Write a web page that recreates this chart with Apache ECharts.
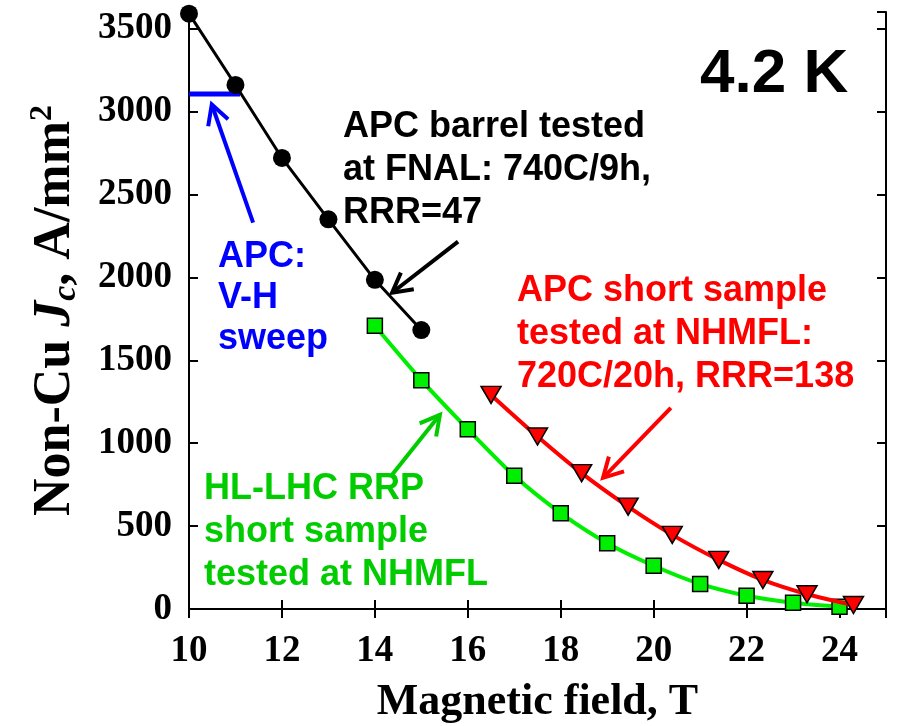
<!DOCTYPE html>
<html>
<head>
<meta charset="utf-8">
<script src="https://cdn.jsdelivr.net/npm/echarts@6/dist/echarts.min.js"></script>
<style>
html, body { margin: 0; padding: 0; background: #fff; }
#chart { width: 904px; height: 726px; }
</style>
</head>
<body>
<div id="chart"></div>
<script>
// APC barrel tested at FNAL
var blackX = [10, 11, 12, 13, 14, 15];
var blackY = [3590, 3160, 2720, 2350, 1985, 1682];
// APC V-H sweep
var blueX = [10, 11.1];
var blueY = [3105, 3105];
// HL-LHC RRP short sample
var greenX = [14, 15, 16, 17, 18, 19, 20, 21, 22, 23, 24];
var greenY = [1708, 1380, 1084, 803, 578, 397, 261, 151, 80, 38, 14];
// APC short sample at NHMFL
var redX = [16.5, 17.5, 18.45, 19.45, 20.4, 21.4, 22.35, 23.3, 24.3];
var redY = [1291, 1040, 819, 617, 447, 296, 175, 89, 24];
// annotation arrows: [x1, y1, x2, y2] (tail -> head)
var arrowLines = [
    [15.79, 2215, 14.37, 1907],
    [11.38, 2330, 10.49, 3042],
    [14.37, 809, 15.40, 1171],
    [20.37, 1213, 18.91, 791]
];
var arrowColors = ['#000000', '#0000ff', '#00cc00', '#ff0000'];

var SERIF = '"Liberation Serif", "Times New Roman", serif';
var SANS = '"Liberation Sans", Arial, sans-serif';

function zip(xs, ys) {
    var out = [];
    for (var i = 0; i < xs.length; i++) {
        out.push([xs[i], ys[i]]);
    }
    return out;
}

function renderArrow(params, api) {
    var p1 = api.coord([api.value(0), api.value(1)]);
    var p2 = api.coord([api.value(2), api.value(3)]);
    var ang = Math.atan2(p1[1] - p2[1], p1[0] - p2[0]);
    var len = 22, spread = 0.5;
    var h1 = [p2[0] + len * Math.cos(ang + spread), p2[1] + len * Math.sin(ang + spread)];
    var h2 = [p2[0] + len * Math.cos(ang - spread), p2[1] + len * Math.sin(ang - spread)];
    var color = arrowColors[params.dataIndex];
    return {
        type: 'group',
        children: [{
            type: 'line',
            shape: { x1: p1[0], y1: p1[1], x2: p2[0], y2: p2[1] },
            style: { stroke: color, lineWidth: 4 }
        }, {
            type: 'polyline',
            shape: { points: [h1, p2, h2] },
            style: { stroke: color, lineWidth: 4, fill: null }
        }]
    };
}

var tickStyle = { show: true, inside: true, length: 9, lineStyle: { color: '#000', width: 2 } };
var lineStyle = { show: true, lineStyle: { color: '#000', width: 2 } };

var myChart = echarts.init(document.getElementById('chart'));
var option = {
    animation: false,
    backgroundColor: '#fff',
    grid: { left: 189, right: 18, top: 12, bottom: 117, outerBoundsMode: 'none', containLabel: false },
    xAxis: [{
        type: 'value', min: 10, max: 25, interval: 2,
        axisLine: lineStyle, axisTick: tickStyle, splitLine: { show: false },
        axisLabel: {
            showMaxLabel: false, margin: 24,
            formatter: function (v) { return String(v); },
            fontFamily: SERIF, fontWeight: 'bold', fontSize: 37, color: '#000'
        },
        name: 'Magnetic field, T', nameLocation: 'middle', nameGap: 72,
        nameTextStyle: { fontFamily: SERIF, fontWeight: 'bold', fontSize: 44, color: '#000' }
    }, {
        type: 'value', min: 10, max: 25, interval: 2, position: 'top',
        axisLine: lineStyle, axisTick: tickStyle, splitLine: { show: false },
        axisLabel: { show: false }
    }],
    yAxis: [{
        type: 'value', min: 0, max: 3600, interval: 500,
        axisLine: lineStyle, axisTick: tickStyle, splitLine: { show: false },
        axisLabel: {
            showMaxLabel: false, margin: 17,
            formatter: function (v) { return String(v); },
            fontFamily: SERIF, fontWeight: 'bold', fontSize: 37, color: '#000'
        },
        name: 'Non-Cu {i|J}{sub|c}, A/mm{sup|2}', nameLocation: 'middle', nameGap: 86,
        nameTextStyle: {
            fontFamily: SERIF, fontWeight: 'bold', fontSize: 52, color: '#000', lineHeight: 56,
            rich: {
                i: { fontFamily: SERIF, fontWeight: 'bold', fontStyle: 'italic', fontSize: 52, color: '#000', lineHeight: 56 },
                sub: { fontFamily: SERIF, fontWeight: 'bold', fontStyle: 'italic', fontSize: 34, color: '#000', verticalAlign: 'bottom', lineHeight: 36, padding: [24, 0, 0, 0] },
                sup: { fontFamily: SERIF, fontWeight: 'bold', fontSize: 32, color: '#000', verticalAlign: 'top', lineHeight: 32, padding: [0, 0, 28, 0] }
            }
        }
    }, {
        type: 'value', min: 0, max: 3600, interval: 500, position: 'right',
        axisLine: lineStyle, axisTick: tickStyle, splitLine: { show: false },
        axisLabel: { show: false }
    }],
    series: [{
        name: 'APC V-H sweep', type: 'line', data: zip(blueX, blueY),
        symbol: 'none', lineStyle: { color: '#0000ff', width: 5 }, z: 3
    }, {
        name: 'APC barrel FNAL', type: 'line', data: zip(blackX, blackY),
        symbol: 'circle', symbolSize: 18, clip: false,
        lineStyle: { color: '#000', width: 3 },
        itemStyle: { color: '#000' }, z: 4
    }, {
        name: 'HL-LHC RRP', type: 'line', data: zip(greenX, greenY), smooth: 0.25,
        symbol: 'rect', symbolSize: 15, clip: false,
        lineStyle: { color: '#00ee00', width: 4 },
        itemStyle: { color: '#00ee00', borderColor: '#000', borderWidth: 1.5 }, z: 4
    }, {
        name: 'APC short sample', type: 'line', data: zip(redX, redY), smooth: 0.25,
        symbol: 'triangle', symbolRotate: 180, symbolSize: [20, 17], clip: false,
        lineStyle: { color: '#ff0000', width: 4 },
        itemStyle: { color: '#ff0000', borderColor: '#000', borderWidth: 1.5 }, z: 5
    }, {
        name: 'arrows', type: 'custom', renderItem: renderArrow,
        data: arrowLines, clip: false, z: 6
    }],
    graphic: [{
        type: 'text', left: 700, top: 44,
        style: { text: '4.2 K', font: 'bold 62px ' + SANS, fill: '#000' }
    }, {
        type: 'text', left: 343, top: 106,
        style: { text: 'APC barrel tested\nat FNAL: 740C/9h,\nRRR=47', font: 'bold 36px ' + SANS, fill: '#000', lineHeight: 43 }
    }, {
        type: 'text', left: 517, top: 270,
        style: { text: 'APC short sample\ntested at NHMFL:\n720C/20h, RRR=138', font: 'bold 36px ' + SANS, fill: '#ff0000', lineHeight: 43 }
    }, {
        type: 'text', left: 204, top: 468,
        style: { text: 'HL-LHC RRP\nshort sample\ntested at NHMFL', font: 'bold 36px ' + SANS, fill: '#00cc00', lineHeight: 43 }
    }, {
        type: 'text', left: 218, top: 237,
        style: { text: 'APC:\nV-H\nsweep', font: 'bold 36px ' + SANS, fill: '#0000ff', lineHeight: 41 }
    }]
};
myChart.setOption(option);
</script>
</body>
</html>
